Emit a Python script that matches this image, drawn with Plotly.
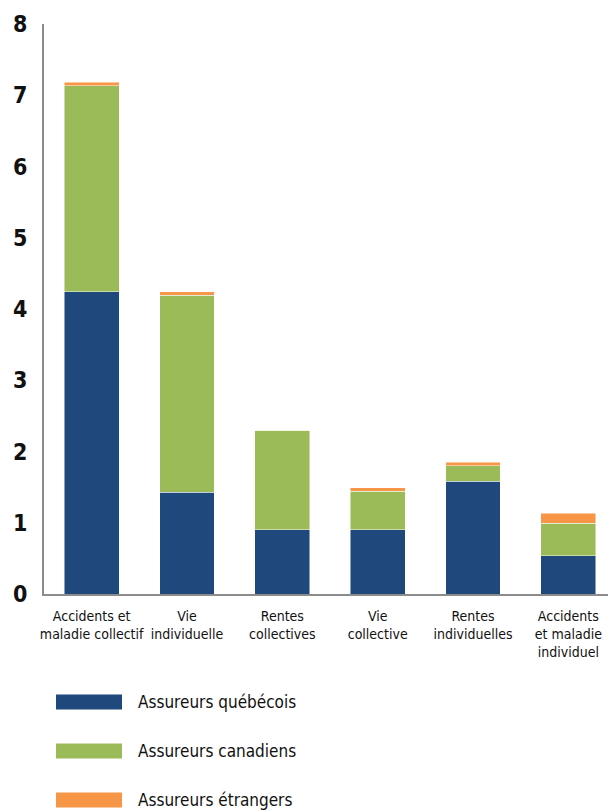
import plotly.graph_objects as go

categories = [
    "Accidents et<br>maladie collectif",
    "Vie<br>individuelle",
    "Rentes<br>collectives",
    "Vie<br>collective",
    "Rentes<br>individuelles",
    "Accidents<br>et maladie<br>individuel",
]
series_names = ["Assureurs québécois", "Assureurs canadiens", "Assureurs étrangers"]
quebecois = [4.24, 1.43, 0.90, 0.90, 1.58, 0.54]
canadiens = [2.89, 2.76, 1.40, 0.54, 0.22, 0.45]
etrangers = [0.05, 0.05, 0.00, 0.05, 0.05, 0.14]
colors = ["#1F497D", "#9BBB59", "#F79646"]
y_ticks = [0, 1, 2, 3, 4, 5, 6, 7, 8]

FONT = "DejaVu Sans Condensed, Liberation Sans Narrow, sans-serif"

# the page body adds an 8px margin, so the figure is drawn 8px smaller
OFF = 8
W, H = 616 - OFF, 812 - OFF
ML, MR, MT, MB = 44 - OFF, 0, 24 - OFF, 812 - 594
pw, ph = W - ML - MR, H - MT - MB


def px_x(sx):
    return (sx - OFF - ML) / pw


def px_y(sy):
    return (MT + ph - (sy - OFF)) / ph


fig = go.Figure()
for name, vals, col in zip(series_names, [quebecois, canadiens, etrangers], colors):
    fig.add_trace(go.Bar(
        x=categories, y=vals, name=name, marker_color=col,
        marker_line_color="rgba(255,255,255,0.6)", marker_line_width=0.8,
        showlegend=False,
    ))

# custom legend (wide swatches + labels), positioned in paper coordinates
legend_y_px = [702, 751, 800]
shapes, annotations = [], []
for name, col, ypx in zip(series_names, colors, legend_y_px):
    shapes.append(dict(type="rect", xref="paper", yref="paper",
                       x0=px_x(56), x1=px_x(122), y0=px_y(ypx + 7.5), y1=px_y(ypx - 7.5),
                       fillcolor=col, line_width=0))
    annotations.append(dict(xref="paper", yref="paper", x=px_x(136), y=px_y(ypx),
                            text=name, showarrow=False, xanchor="left", yanchor="middle",
                            font=dict(family=FONT, size=17, color="#111")))

fig.update_layout(
    width=W, height=H,
    margin=dict(l=ML, r=MR, t=MT, b=MB),
    barmode="stack", bargap=0.424,
    plot_bgcolor="white", paper_bgcolor="white",
    font=dict(family=FONT, color="#111"),
    shapes=shapes, annotations=annotations,
    xaxis=dict(showline=True, linecolor="#8c8c8c", linewidth=2, showgrid=False,
               automargin=False, ticks="", tickangle=0, ticklabelstandoff=8,
               tickfont=dict(size=14, family=FONT, color="#111")),
    yaxis=dict(range=[0, 8], tickvals=y_ticks, showline=True, linecolor="#8c8c8c",
               linewidth=2, showgrid=False, zeroline=False, ticks="",
               automargin=False, ticklabelstandoff=10,
               tickfont=dict(size=23, family=FONT, color="#111", weight="bold")),
)

fig.write_html("out.html")
